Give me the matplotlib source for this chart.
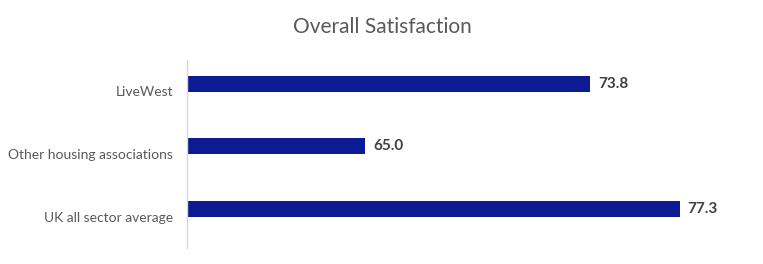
import matplotlib
matplotlib.use("Agg")
import matplotlib.pyplot as plt

categories = ["LiveWest", "Other housing associations", "UK all sector average"]
values = [73.8, 65.0, 77.3]
title = "Overall Satisfaction"

plt.rcParams['font.family'] = ['Lato', 'DejaVu Sans']

fig = plt.figure(figsize=(7.63, 2.64), dpi=100)
ax = fig.add_axes([186.5/763, 1-248/264, (748.6-186.5)/763, 188/264])

xmin, xmax = 58, 80
ypos = list(range(len(categories)))
bar_offset = -0.12
ax.barh([y + bar_offset for y in ypos], [v - xmin for v in values], left=xmin,
        height=0.255, color="#0c1a94")
ax.set_xlim(xmin, xmax)
ax.set_ylim(len(categories) - 0.5, -0.5)
ax.set_yticks(ypos)
ax.set_yticklabels(categories, color="#595959", fontsize=10)
ax.tick_params(axis='y', length=0, pad=9.7)
ax.set_xticks([])
for s in ["top", "right", "bottom"]:
    ax.spines[s].set_visible(False)
ax.spines["left"].set_color("#d9d9d9")
ax.spines["left"].set_linewidth(1)

for y, v in zip(ypos, values):
    ax.annotate(f"{v:.1f}", (v, y + bar_offset), xytext=(8, 0), textcoords="offset pixels",
                ha="left", va="center", fontsize=11, fontweight="bold", color="#404040")

fig.text(382/763, 1-27/264, title, ha="center", va="center", fontsize=15, color="#595959")

fig.savefig("out.png", dpi=100)
